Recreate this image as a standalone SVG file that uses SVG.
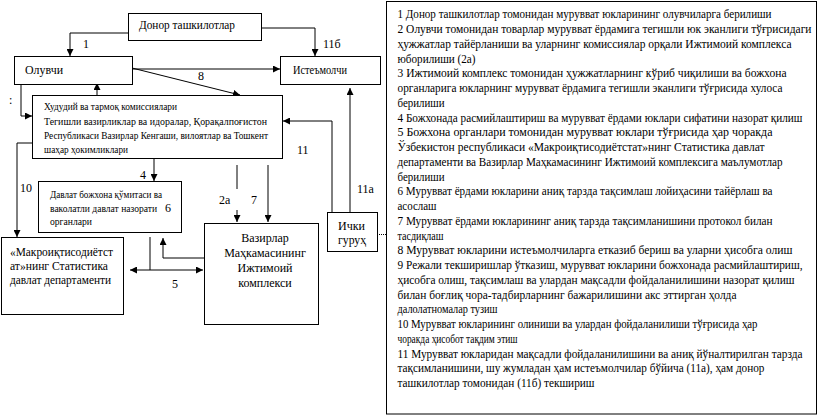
<svg xmlns="http://www.w3.org/2000/svg" width="818" height="416" viewBox="0 0 818 416">
<style>
.b{fill:#fff;stroke:#000;stroke-width:1}
.l{fill:none;stroke:#000;stroke-width:1}
.a{marker-end:url(#ah)}
text{font-family:"Liberation Serif","Times New Roman",serif;font-size:12px;fill:#000}
.c{font-size:11px}
.r{font-size:11.5px}
</style>
<defs>
<marker id="ah" viewBox="0 0 8 8" refX="8" refY="4" markerWidth="7" markerHeight="7" orient="auto" markerUnits="userSpaceOnUse"><path d="M0,0 L8,4 L0,8 z" fill="#000"/></marker>
</defs>
<rect x="0" y="0" width="818" height="416" fill="#fff"/>

<g id="connectors">
<polyline class="l a" points="128,33 70,33 70,56"/>
<polyline class="l a" points="261,28 315,28 315,56"/>
<line class="l a" x1="132" y1="69" x2="280" y2="69"/>
<line class="l a" x1="132" y1="68" x2="240" y2="95"/>
<line class="l a" x1="97" y1="95" x2="97" y2="83"/>
<polyline class="l a" points="21,84 21,116 32,116"/>
<polyline class="l a" points="32,143 17,143 17,237"/>
<polyline class="l a" points="332,212 332,121 283,121"/>
<line class="l a" x1="350" y1="212" x2="350" y2="88"/>
<line class="l a" x1="154" y1="159" x2="154" y2="181"/>
<line class="l" x1="237" y1="165" x2="237" y2="189"/>
<line class="l a" x1="237" y1="210" x2="237" y2="222"/>
<line class="l a" x1="268" y1="165" x2="268" y2="222"/>
<line class="l" x1="150" y1="237" x2="150" y2="270"/>
<line class="l a" x1="150" y1="270" x2="130" y2="270"/>
<line class="l a" x1="150" y1="270" x2="203" y2="270"/>
<polyline class="l a" points="204,258 163,258 163,238"/>
<line class="l" x1="379" y1="234.5" x2="386" y2="234.5" stroke-dasharray="1,1"/>
</g>

<g id="labels">
<text x="83" y="48">1</text>
<text x="323" y="48">11б</text>
<text x="198" y="80">8</text>
<text x="9" y="104">:</text>
<text x="80" y="114">9</text>
<text x="297" y="154">11</text>
<text x="20" y="192">10</text>
<text x="140" y="179">4</text>
<text x="219" y="204">2а</text>
<text x="251" y="204">7</text>
<text x="357" y="193">11а</text>
<text x="172" y="288">5</text>
</g>

<g id="donor">
<rect class="b" x="128.5" y="13.5" width="133" height="27"/>
<text x="139" y="29" textLength="96" lengthAdjust="spacingAndGlyphs">Донор ташкилотлар</text>
</g>

<g id="oluvchi">
<rect class="b" x="14.5" y="56.5" width="118" height="28"/>
<text x="25" y="74" textLength="38" lengthAdjust="spacingAndGlyphs">Олувчи</text>
</g>

<g id="istemolchi">
<rect class="b" x="280.5" y="56.5" width="100" height="28"/>
<text x="293" y="74" textLength="54" lengthAdjust="spacingAndGlyphs">Истеъмолчи</text>
</g>

<g id="hududiy">
<rect class="b" x="32.5" y="95.5" width="250" height="63"/>
<text class="c" x="44" y="110" textLength="133" lengthAdjust="spacingAndGlyphs">Худудий ва тармоқ комиссиялари</text>
<text class="c" x="44" y="125" textLength="223" lengthAdjust="spacingAndGlyphs">Тегишли вазирликлар ва идоралар, Қорақалпоғистон</text>
<text class="c" x="44" y="139" textLength="224" lengthAdjust="spacingAndGlyphs">Республикаси Вазирлар Кенгаши, вилоятлар ва Тошкент</text>
<text class="c" x="44" y="153" textLength="84" lengthAdjust="spacingAndGlyphs">шаҳар ҳокимликлари</text>
</g>

<g id="bojxona">
<rect class="b" x="38.5" y="181.5" width="143" height="51"/>
<text class="c" x="50" y="198" textLength="112" lengthAdjust="spacingAndGlyphs">Давлат божхона қўмитаси ва</text>
<text class="c" x="50" y="212" textLength="107" lengthAdjust="spacingAndGlyphs">ваколатли давлат назорати</text>
<text x="165" y="212">6</text>
<text class="c" x="50" y="225" textLength="42" lengthAdjust="spacingAndGlyphs">органлари</text>
</g>

<g id="makro">
<rect class="b" x="1.5" y="237.5" width="122" height="77"/>
<text x="10" y="256" textLength="103" lengthAdjust="spacingAndGlyphs">«Макроиқтисодиётст</text>
<text x="10" y="270" textLength="98" lengthAdjust="spacingAndGlyphs">ат»нинг Статистика</text>
<text x="10" y="284" textLength="101" lengthAdjust="spacingAndGlyphs">давлат департаменти</text>
</g>

<g id="vazirlar">
<rect class="b" x="204.5" y="223.5" width="114" height="101"/>
<text x="265" y="242" text-anchor="middle">Вазирлар</text>
<text x="265" y="257" text-anchor="middle">Маҳкамасининг</text>
<text x="265" y="272" text-anchor="middle">Ижтимоий</text>
<text x="265" y="287" text-anchor="middle">комплекси</text>
</g>

<g id="ichki">
<rect class="b" x="327.5" y="212.5" width="50" height="39"/>
<text x="338" y="230" textLength="27" lengthAdjust="spacingAndGlyphs">Ички</text>
<text x="338" y="244" textLength="28" lengthAdjust="spacingAndGlyphs">гуруҳ</text>
</g>

<g id="legend">
<rect class="b" x="386.5" y="1.5" width="430" height="412.5"/>
<text class="r" x="397.5" y="18.3" textLength="374" lengthAdjust="spacingAndGlyphs">1 Донор ташкилотлар томонидан мурувват юкларининг олувчиларга берилиши</text>
<text class="r" x="397.5" y="33" textLength="414" lengthAdjust="spacingAndGlyphs">2 Олувчи томонидан товарлар мурувват ёрдамига тегишли юк эканлиги тўғрисидаги</text>
<text class="r" x="397.5" y="47.8" textLength="394" lengthAdjust="spacingAndGlyphs">ҳужжатлар тайёрланиши ва уларнинг комиссиялар орқали Ижтимоий комплекса</text>
<text class="r" x="397.5" y="62.5" textLength="78" lengthAdjust="spacingAndGlyphs">юборилиши (2а)</text>
<text class="r" x="397.5" y="77.3" textLength="389" lengthAdjust="spacingAndGlyphs">3 Ижтимоий комплекс томонидан ҳужжатларнинг кўриб чиқилиши ва божхона</text>
<text class="r" x="397.5" y="92" textLength="385" lengthAdjust="spacingAndGlyphs">органларига юкларнинг мурувват ёрдамига тегишли эканлиги тўғрисида хулоса</text>
<text class="r" x="397.5" y="106.8" textLength="47" lengthAdjust="spacingAndGlyphs">берилиши</text>
<text class="r" x="397.5" y="121.5" textLength="405" lengthAdjust="spacingAndGlyphs">4 Божхонада расмийлаштириш ва мурувват ёрдами юклари сифатини назорат қилиш</text>
<text class="r" x="397.5" y="136.3" textLength="375" lengthAdjust="spacingAndGlyphs">5 Божхона органлари томонидан мурувват юклари тўғрисида ҳар чоракда</text>
<text class="r" x="397.5" y="151" textLength="367" lengthAdjust="spacingAndGlyphs">Ўзбекистон республикаси «Макроиқтисодиётстат»нинг Статистика давлат</text>
<text class="r" x="397.5" y="165.8" textLength="385" lengthAdjust="spacingAndGlyphs">департаменти  ва Вазирлар Маҳкамасининг Ижтимоий комплексига маълумотлар</text>
<text class="r" x="397.5" y="180.5" textLength="47" lengthAdjust="spacingAndGlyphs">берилиши</text>
<text class="r" x="397.5" y="195.3" textLength="375" lengthAdjust="spacingAndGlyphs">6 Мурувват ёрдами юкларини аниқ тарзда тақсимлаш лойиҳасини тайёрлаш ва</text>
<text class="r" x="397.5" y="210" textLength="39" lengthAdjust="spacingAndGlyphs">асослаш</text>
<text class="r" x="397.5" y="224.8" textLength="375" lengthAdjust="spacingAndGlyphs">7 Мурувват ёрдами юкларининг аниқ тарзда тақсимланишини протокол билан</text>
<text class="r" x="397.5" y="239.5" textLength="46" lengthAdjust="spacingAndGlyphs">тасдиқлаш</text>
<text class="r" x="397.5" y="254.3" textLength="395" lengthAdjust="spacingAndGlyphs">8 Мурувват юкларини истеъмолчиларга етказиб бериш ва уларни ҳисобга олиш</text>
<text class="r" x="397.5" y="269" textLength="405" lengthAdjust="spacingAndGlyphs">9 Режали текширишлар ўтказиш, мурувват юкларини божхонада расмийлаштириш,</text>
<text class="r" x="397.5" y="283.8" textLength="397" lengthAdjust="spacingAndGlyphs">ҳисобга олиш, тақсимлаш ва улардан  мақсадли фойдаланилишини назорат қилиш</text>
<text class="r" x="397.5" y="298.5" textLength="339" lengthAdjust="spacingAndGlyphs">билан боғлиқ чора-тадбирларнинг бажарилишини  акс эттирган ҳолда</text>
<text class="r" x="397.5" y="313.3" textLength="100" lengthAdjust="spacingAndGlyphs">далолатномалар тузиш</text>
<text class="r" x="397.5" y="328" textLength="360" lengthAdjust="spacingAndGlyphs">10 Мурувват юкларининг олиниши ва улардан фойдаланилиши тўғрисида ҳар</text>
<text class="r" x="397.5" y="342.8" textLength="120" lengthAdjust="spacingAndGlyphs">чоракда ҳисобот тақдим этиш</text>
<text class="r" x="397.5" y="357.5" textLength="405" lengthAdjust="spacingAndGlyphs">11 Мурувват юкларидан мақсадли фойдаланилишини ва аниқ йўналтирилган  тарзда</text>
<text class="r" x="397.5" y="372.3" textLength="367" lengthAdjust="spacingAndGlyphs">тақсимланишини, шу жумладан ҳам истеъмолчилар бўйича (11а), ҳам донор</text>
<text class="r" x="397.5" y="387" textLength="197" lengthAdjust="spacingAndGlyphs">ташкилотлар томонидан (11б) текшириш</text>
</g>
</svg>
